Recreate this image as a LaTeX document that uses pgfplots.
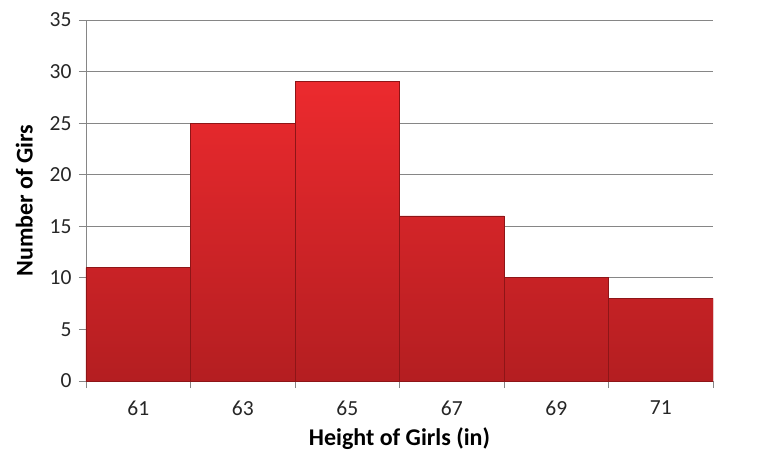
\documentclass[border=0pt]{standalone}
\usepackage{pgfplots}
\pgfplotsset{compat=1.18}
\usepackage{fontspec}
\setmainfont{Carlito}
\definecolor{gridgray}{HTML}{868686}
\definecolor{bartop}{HTML}{EC2A2E}
\definecolor{barbot}{HTML}{B41E21}
\definecolor{baredge}{HTML}{8E1517}
\begin{document}
\begin{tikzpicture}[x=1pt,y=1pt]
\begin{axis}[
  at={(0,0)}, anchor=south west,
  scale only axis,
  width=627pt, height=361pt,
  xmin=-0.5, xmax=5.5,
  ymin=0, ymax=35,
  ytick={0,5,...,35},
  xtick={0,...,5},
  xticklabels={61,63,65,67,69,71},
  major x tick style={draw=none},
  minor xtick={-0.5,0.5,...,5.5},
  minor x tick style={draw=gridgray},
  minor tick length=7pt,
  major tick length=7pt,
  tick align=outside,
  ymajorgrids,
  grid style={gridgray, line width=0.9pt},
  y tick style={gridgray, line width=0.9pt},
  axis x line*=bottom,
  axis y line*=left,
  axis line style={gridgray, line width=0.9pt, -},
  ticklabel style={font=\fontsize{21.5}{24}\selectfont, text=black!85},
  /pgf/number format/assume math mode=true,
  yticklabel style={xshift=-4pt},
  xticklabel style={yshift=-9pt},
  xlabel={\textbf{Height of Girls (in)}},
  ylabel={\textbf{Number of Girs}},
  label style={font=\fontsize{24}{26}\selectfont},
  xlabel style={yshift=-6pt},
  ylabel style={yshift=10pt},
]
\addplot[ybar, bar width=1, bar shift=0pt, draw=baredge, line width=0.8pt,
  top color=bartop, bottom color=barbot] coordinates {
  (0,11) (1,25) (2,29) (3,16) (4,10) (5,8)
};
\end{axis}
\pgfresetboundingbox
\path (-86pt,-77pt) rectangle (673pt,381pt);
\end{tikzpicture}
\end{document}
